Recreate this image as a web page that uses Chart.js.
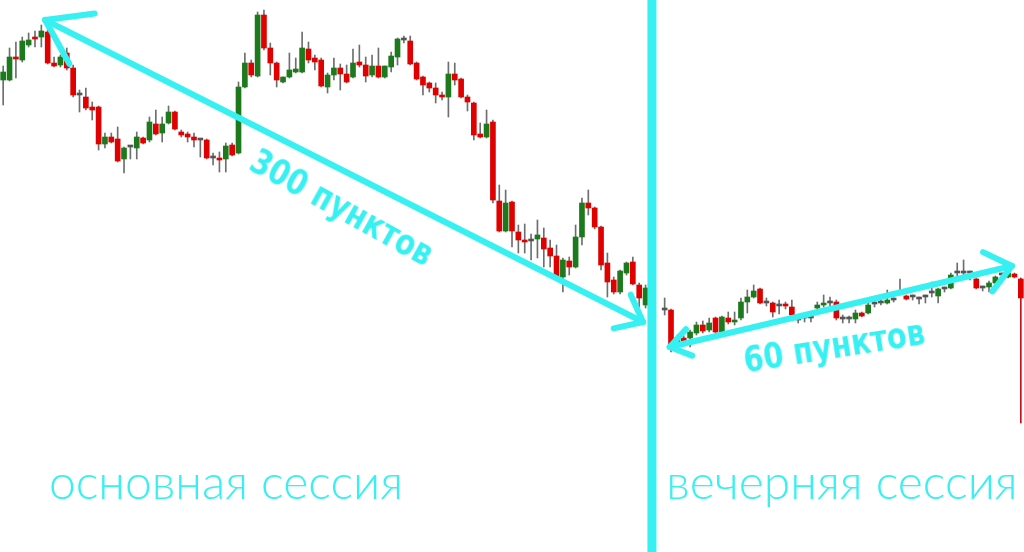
<!DOCTYPE html>
<html>
<head>
<meta charset="utf-8">
<script src="https://cdn.jsdelivr.net/npm/chart.js@4.4.0/dist/chart.umd.min.js"></script>
<style>
html, body { margin: 0; padding: 0; background: #fff; overflow: hidden; }
#wrap { position: relative; width: 1024px; height: 552px; }
canvas { display: block; }
.lbl { position: absolute; color: #36f0f2; white-space: nowrap; transform-origin: 50% 50%; }
.pts { font-family: "DejaVu Sans Condensed", "DejaVu Sans", sans-serif; font-weight: 700; font-size: 32px; }
.sess { font-family: Lato, "Noto Sans", sans-serif; font-weight: 300; font-size: 48px; }
</style>
</head>
<body>
<div id="wrap">
  <canvas id="chart" width="1024" height="552"></canvas>
  <div class="lbl pts" style="left:342px;top:207px;transform:translate(-50%,-50%) rotate(29deg) scaleY(1.1)">300 пунктов</div>
  <div class="lbl pts" style="left:834px;top:346px;transform:translate(-50%,-50%) rotate(-9deg) scaleY(1.1)">60 пунктов</div>
  <div class="lbl sess" style="left:226px;top:480px;transform:translate(-50%,-50%)">основная сессия</div>
  <div class="lbl sess" style="left:842px;top:480px;transform:translate(-50%,-50%)">вечерняя сессия</div>
</div>
<script>
// main session: 102 bars, then 2 empty slots, then evening session: 57 bars
const open = [
  1420,1420,1443,1440,1455,1463,1463,1468,1437,1435,1447,1432,1405,1403,1393,1393,1356,1363,1361,1341,
  1353,1352,1362,1360,1376,1367,1377,1388,1368,1366,1363,1360,1360,1342,1342,1341,1355,1347,1413,1437,
  1424,1485,1452,1437,1418,1423,1428,1428,1451,1442,1440,1413,1425,1432,1426,1423,1438,1435,1425,1434,
  1423,1433,1443,1460,1459,1437,1423,1417,1412,1405,1403,1426,1421,1403,1397,1366,1363,1378,1299,1269,
  1298,1268,1259,1259,1261,1262,1252,1244,1223,1239,1233,1263,1297,1292,1273,1237,1220,1208,1227,1238,
  1215,1195,
  null,null,
  1190,1190,1155,1162,1162,1167,1175,1170,1182,1168,1182,1178,1182,1198,1203,1211,1197,1197,1194,1196,
  1193,1180,1182,1182,1192,1195,1197,1198,1181,1181,1181,1187,1187,1196,1197,1197,1200,1207,1204,1203,
  1201,1203,1207,1204,1211,1212,1227,1227,1227,1221,1212,1213,1217,1225,1223,1226,1221
];
const high = [
  1434,1452,1458,1463,1467,1469,1475,1472,1443,1445,1452,1435,1410,1412,1398,1394,1367,1367,1373,1353,
  1354,1368,1363,1383,1390,1383,1394,1389,1370,1368,1367,1361,1361,1347,1348,1357,1357,1418,1447,1440,
  1488,1490,1457,1438,1423,1447,1442,1468,1458,1445,1442,1427,1442,1436,1435,1451,1455,1443,1445,1452,
  1434,1448,1462,1464,1464,1438,1424,1418,1417,1408,1438,1437,1422,1405,1398,1377,1390,1380,1315,1310,
  1299,1275,1276,1266,1280,1272,1260,1255,1242,1243,1275,1302,1310,1293,1274,1247,1223,1230,1238,1243,
  1217,1215,
  null,null,
  1202,1191,1165,1164,1170,1178,1179,1182,1183,1184,1188,1188,1202,1210,1215,1212,1202,1198,1200,1198,
  1200,1185,1186,1187,1198,1205,1203,1200,1185,1184,1190,1188,1197,1199,1200,1210,1202,1221,1205,1205,
  1203,1205,1218,1212,1213,1227,1237,1240,1229,1222,1214,1219,1224,1227,1228,1227,1222
];
const low = [
  1395,1419,1422,1438,1453,1453,1453,1436,1433,1433,1430,1403,1388,1390,1380,1350,1352,1357,1338,1327,
  1341,1341,1356,1358,1365,1358,1376,1370,1363,1358,1353,1343,1341,1335,1328,1328,1344,1346,1412,1423,
  1423,1450,1425,1413,1417,1422,1427,1427,1437,1430,1413,1407,1420,1410,1417,1422,1433,1418,1423,1422,
  1422,1428,1435,1457,1435,1420,1405,1408,1397,1400,1383,1415,1402,1389,1360,1362,1362,1297,1268,1268,
  1253,1247,1247,1240,1242,1233,1233,1222,1208,1225,1232,1255,1285,1271,1230,1203,1206,1206,1225,1215,
  1193,1192,
  null,null,
  1185,1148,1150,1158,1153,1165,1167,1168,1167,1167,1176,1175,1180,1187,1202,1196,1194,1183,1186,1191,
  1183,1177,1178,1178,1188,1193,1194,1180,1177,1177,1177,1183,1186,1193,1195,1196,1198,1205,1200,1200,
  1196,1197,1203,1197,1208,1211,1223,1225,1220,1211,1209,1208,1215,1222,1222,1222,1077
];
const close = [
  1428,1443,1441,1459,1460,1461,1469,1437,1434,1443,1432,1405,1405,1392,1390,1356,1363,1358,1339,1352,
  1353,1363,1357,1378,1366,1376,1388,1371,1365,1363,1360,1360,1342,1342,1340,1354,1345,1413,1437,1425,
  1485,1452,1437,1420,1423,1430,1431,1452,1440,1438,1414,1425,1432,1426,1418,1437,1435,1424,1434,1423,
  1434,1444,1461,1460,1436,1421,1415,1412,1405,1403,1426,1420,1403,1398,1365,1363,1376,1300,1269,1297,
  1269,1260,1258,1259,1265,1251,1244,1223,1240,1233,1263,1297,1292,1273,1235,1218,1208,1229,1237,1216,
  1202,1212,
  null,null,
  1190,1153,1162,1159,1168,1175,1169,1177,1168,1183,1178,1180,1198,1203,1209,1197,1197,1188,1194,1194,
  1185,1180,1182,1182,1195,1197,1197,1182,1181,1181,1187,1184,1195,1196,1197,1200,1200,1207,1201,1203,
  1201,1203,1207,1211,1211,1225,1227,1227,1227,1212,1212,1217,1223,1225,1227,1223,1202
];
const labels = open.map((_, i) => String(i + 1));

const SESSION_BREAK = 102; // first empty slot between the sessions
const arrows = [
  { from: [6.6, 1480], to: [100.6, 1178], headFrom: 50, headTo: 30 },
  { from: [104.8, 1153], to: [158.6, 1234], headFrom: 24, headTo: 32 }
];

const CYAN = '#36f0f2';
const UP = '#1c7a1c', DOWN = '#e00000', FLAT = '#555555', WICK = '#6e6e6e';

const bodyColors = open.map((o, i) => o == null ? FLAT : close[i] > o ? UP : close[i] < o ? DOWN : FLAT);
// the last bar is still forming, its shadow is drawn in red
const wickColors = low.map((_, i) => i === low.length - 1 ? '#c8101a' : WICK);

function head(ctx, tip, back, len, ang) {
  const a = Math.atan2(back[1] - tip[1], back[0] - tip[0]);
  [ang, -ang].forEach(d => {
    ctx.beginPath();
    ctx.moveTo(tip[0], tip[1]);
    ctx.lineTo(tip[0] + len * Math.cos(a + d), tip[1] + len * Math.sin(a + d));
    ctx.stroke();
  });
}

const overlay = {
  id: 'overlay',
  afterDatasetsDraw(chart) {
    const { ctx, scales: { x, y } } = chart;
    ctx.save();
    ctx.strokeStyle = CYAN;
    ctx.lineCap = 'round';
    ctx.lineJoin = 'round';

    const bx = x.getPixelForValue(SESSION_BREAK);
    ctx.lineWidth = 9;
    ctx.beginPath();
    ctx.moveTo(bx, 0);
    ctx.lineTo(bx, chart.height);
    ctx.stroke();

    ctx.lineWidth = 6;
    arrows.forEach(a => {
      const p1 = [x.getPixelForValue(a.from[0]), y.getPixelForValue(a.from[1])];
      const p2 = [x.getPixelForValue(a.to[0]), y.getPixelForValue(a.to[1])];
      ctx.beginPath();
      ctx.moveTo(p1[0], p1[1]);
      ctx.lineTo(p2[0], p2[1]);
      ctx.stroke();
      head(ctx, p1, p2, a.headFrom, 0.6);
      head(ctx, p2, p1, a.headTo, 0.68);
    });
    ctx.restore();
  }
};

new Chart(document.getElementById('chart'), {
  type: 'bar',
  data: {
    labels,
    datasets: [
      {
        label: 'body',
        data: open.map((o, i) => o == null ? null : [o, close[i]]),
        backgroundColor: bodyColors,
        barThickness: 5,
        minBarLength: 2,
        grouped: false,
        order: 1
      },
      {
        label: 'wick',
        data: low.map((l, i) => l == null ? null : [l, high[i]]),
        backgroundColor: wickColors,
        barThickness: 1,
        grouped: false,
        order: 2
      }
    ]
  },
  options: {
    responsive: false,
    animation: false,
    events: [],
    layout: { padding: 0 },
    plugins: { legend: { display: false }, tooltip: { enabled: false } },
    scales: {
      x: { type: 'category', display: false, offset: true, grid: { display: false } },
      y: { display: false, min: 948, max: 1500, grid: { display: false } }
    }
  },
  plugins: [overlay]
});
</script>
</body>
</html>
